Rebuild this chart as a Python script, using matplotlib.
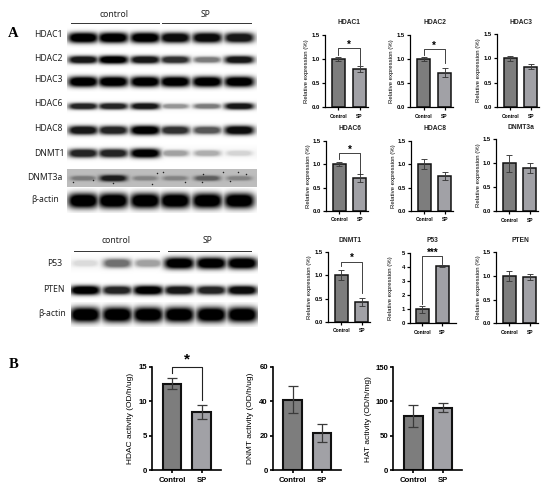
import numpy as np
import matplotlib.pyplot as plt

from matplotlib import rcParams
rcParams['font.family'] = ['Liberation Sans', 'DejaVu Sans']
rcParams['font.weight'] = 'bold'

W, H = 550, 491

# panel A bar charts
names_a = ['HDAC1', 'HDAC2', 'HDAC3', 'HDAC6', 'HDAC8', 'DNMT3a', 'DNMT1', 'P53', 'PTEN']
control_a = [1.0, 1.0, 1.0, 1.0, 1.0, 1.0, 1.0, 1.0, 1.0]
sp_a = [0.79, 0.72, 0.83, 0.70, 0.75, 0.90, 0.43, 4.07, 0.98]
control_err_a = [0.04, 0.04, 0.05, 0.05, 0.11, 0.18, 0.10, 0.25, 0.10]
sp_err_a = [0.06, 0.09, 0.05, 0.08, 0.09, 0.10, 0.09, 0.07, 0.06]

# panel B bar charts
ylabels_b = ['HDAC activity (OD/h/ug)', 'DNMT activity (OD/h/ug)', 'HAT activity (OD/h/mg)']
control_b = [12.5, 41.0, 78.5]
sp_b = [8.4, 21.4, 91.0]
control_err_b = [0.8, 7.8, 16.0]
sp_err_b = [1.0, 5.2, 7.0]

groups = ['Control', 'SP']

# band strength in the six lanes of each blot row
blot_top_names = ['HDAC1', 'HDAC2', 'HDAC3', 'HDAC6', 'HDAC8', 'DNMT1', 'DNMT3a', 'β-actin']
blot_top = [
    [1.0, 1.0, 1.0, 0.95, 0.95, 0.9],
    [0.9, 1.0, 0.9, 0.8, 0.5, 0.9],
    [1.0, 1.0, 1.0, 1.0, 1.0, 1.0],
    [0.85, 0.85, 0.9, 0.4, 0.5, 0.9],
    [0.9, 0.85, 1.0, 0.8, 0.65, 0.95],
    [0.85, 0.85, 1.0, 0.35, 0.3, 0.15],
    [0.35, 0.85, 0.3, 0.3, 0.5, 0.3],
    [1.0, 1.0, 1.0, 1.0, 1.0, 1.0],
]
blot_bottom_names = ['P53', 'PTEN', 'β-actin']
blot_bottom = [
    [0.12, 0.55, 0.35, 1.0, 1.0, 1.0],
    [1.0, 0.85, 1.0, 0.9, 0.85, 0.95],
    [1.0, 1.0, 1.0, 1.0, 1.0, 1.0],
]

# dark specks on the DNMT3a membrane
speck_x = [73, 93, 113, 152, 157, 163, 185, 203, 223, 202, 230, 238, 246]
speck_y = [182, 180, 183, 184, 173, 172, 182, 174, 172, 182, 181, 172, 174]

fig = plt.figure(figsize=(W / 100, H / 100), dpi=100)


def px_axes(x0, ytop, x1, ybot):
    return fig.add_axes([x0 / W, 1 - ybot / H, (x1 - x0) / W, (ybot - ytop) / H])


# whole figure overlay in pixel coordinates, for the blots and loose text
bg = px_axes(0, 0, W, H)
bg.axis('off')


def blot_row(values, yc, lanes, half_w, half_h, x0, x1, back=1.0):
    pad = half_h + 6
    xs = np.arange(x0, x1, 0.5)
    ys = np.arange(yc - pad, yc + pad, 0.5)
    xx, yy = np.meshgrid(xs, ys)
    dark = np.zeros_like(xx)
    for v, lx in zip(values, lanes):
        hw = half_w * (0.85 + 0.15 * v)
        hh = half_h * (0.6 + 0.55 * v)
        d = np.exp(-np.abs((xx - lx) / hw)**4 - np.abs((yy - yc) / hh)**2.4)
        dark = np.maximum(dark, v * np.minimum(1.0, 1.4 * d))
    if back < 1.0:
        img = back * (1 - dark)
    else:
        halo = 0.025 * np.exp(-np.abs((yy - yc) / (half_h + 3))**4)
        img = (1 - halo) * (1 - dark)
    bg.imshow(img, cmap='gray', vmin=0, vmax=1, extent=[x0, x1, yc + pad, yc - pad],
              aspect='auto', interpolation='bilinear', zorder=1)


lanes_top = [83, 113, 145, 175, 207, 239]
row_y_top = [37.7, 59, 81.7, 105.7, 130, 153, 178, 201]
row_h_top = [4.5, 3.5, 4.5, 3, 4, 4, 3, 6.5]
label_x_top = [48.7, 48.7, 48.7, 48.7, 48.7, 49.7, 44.8, 45.3]
label_y_top = [34, 58, 79, 103, 128, 153, 178, 200]
for i in range(8):
    if blot_top_names[i] == 'DNMT3a':
        blot_row(blot_top[i], row_y_top[i], lanes_top, 14, row_h_top[i], 67, 257, back=0.74)
    else:
        blot_row(blot_top[i], row_y_top[i], lanes_top, 15, row_h_top[i], 67, 257)
    bg.text(label_x_top[i], label_y_top[i], blot_top_names[i], family='Noto Sans', weight='normal',
            fontsize=6.2, ha='center', va='center', color='#222222', zorder=3)
bg.scatter(speck_x, speck_y, s=1.2, color='#222222', linewidths=0, zorder=2)

lanes_bottom = [85, 117, 148, 179, 211, 242]
row_y_bottom = [263, 290, 315]
row_h_bottom = [5, 4, 6.5]
label_x_bottom = [55, 53.7, 51.7]
label_y_bottom = [263, 290, 314]
for i in range(3):
    blot_row(blot_bottom[i], row_y_bottom[i], lanes_bottom, 15, row_h_bottom[i], 71, 258)
    bg.text(label_x_bottom[i], label_y_bottom[i], blot_bottom_names[i], family='Noto Sans', weight='normal',
            fontsize=6.2, ha='center', va='center', color='#222222', zorder=3)

bg.set_xlim(0, W)
bg.set_ylim(H, 0)

for x0, x1, y in [(70.7, 159, 23.3), (162, 250.7, 23.3), (74, 159, 250.7), (168, 251, 250.7)]:
    bg.plot([x0, x1], [y, y], color='#333333', lw=0.7, zorder=3)
for x, y, s in [(114, 14.3, 'control'), (206, 14.3, 'SP'), (116, 240.7, 'control'), (208, 240.7, 'SP')]:
    bg.text(x, y, s, family='Noto Sans', weight='normal', fontsize=6.2, ha='center', va='center', color='#222222')

bg.text(13, 33, 'A', family='Liberation Serif', fontsize=10.5, ha='center', va='center')
bg.text(14, 364, 'B', family='Liberation Serif', fontsize=10.5, ha='center', va='center')


def bars(ax, c, s, ce, se, top, ticks, lw, cap, tick_fs, xtick_fs, ylabel, ylabel_fs, ylabel_x, xlim):
    ax.bar([0, 1], [c, s], width=0.64, color=['#7d7d7d', '#a1a1a6'], edgecolor='#111111', linewidth=lw)
    ax.errorbar([0, 1], [c, s], yerr=[ce, se], fmt='none', ecolor='#3a3a3a', elinewidth=lw * 0.6,
                capsize=cap, capthick=lw * 0.6)
    ax.set_xlim(*xlim)
    ax.set_ylim(0, top)
    ax.set_yticks(ticks)
    ax.set_xticks([0, 1], groups)
    ax.tick_params(axis='y', labelsize=tick_fs, width=lw * 0.8, length=2, pad=1.5)
    ax.tick_params(axis='x', labelsize=xtick_fs, width=lw * 0.8, length=2, pad=2.5)
    ax.spines[['top', 'right']].set_visible(False)
    ax.spines[['left', 'bottom']].set_linewidth(lw * 0.8)
    ax.patch.set_alpha(0)
    ax.set_ylabel(ylabel, fontsize=ylabel_fs, labelpad=0)
    ax.yaxis.set_label_coords(ylabel_x, 0.5)


def bracket(ax, left, top, right, stars, star_y, lw, fs):
    ax.plot([0, 0, 1, 1], [left, top, top, right], color='#222222', lw=lw, clip_on=False)
    ax.text(0.5, star_y, stars, fontsize=fs, ha='center', va='center', clip_on=False)


# pixel boxes of the small charts, left/top/right/bottom
boxes_a = [
    (324.7, 35, 368, 107.3), (410, 35, 453, 107.3), (496.7, 34, 539, 107.3),
    (326, 140.7, 368, 211), (411, 141, 453, 211), (496, 139.3, 538, 211.3),
    (327.7, 251.7, 370, 322), (410, 252.7, 456, 323.3), (496, 252, 538, 323.3),
]
title_xy = [(348.7, 22), (435, 22), (521, 22), (350, 129), (435, 129), (521, 127),
            (350, 240), (432, 240), (520, 240)]

for i, box in enumerate(boxes_a):
    ax = px_axes(*box)
    if names_a[i] == 'P53':
        top, ticks, xlim = 5, [0, 1, 2, 3, 4, 5], (-0.61, 1.68)
    else:
        top, ticks, xlim = 1.5, [0.0, 0.5, 1.0, 1.5], (-0.65, 1.4)
    bars(ax, control_a[i], sp_a[i], control_err_a[i], sp_err_a[i], top, ticks, 1.1, 2.3, 4.2, 3.5,
         'Relative expression (%)', 4.3, -0.365, xlim)
    if names_a[i] != 'P53':
        ax.set_yticklabels(['0.0', '0.5', '1.0', '1.5'])
    bg.text(title_xy[i][0], title_xy[i][1], names_a[i], fontsize=4.8, ha='center', va='center', color='#222222')
    if names_a[i] == 'HDAC1':
        bracket(ax, 1.08, 1.22, 0.88, '*', 1.29, 0.6, 7)
    if names_a[i] == 'HDAC2':
        bracket(ax, 1.08, 1.21, 0.91, '*', 1.28, 0.6, 7)
    if names_a[i] == 'HDAC6':
        bracket(ax, 1.12, 1.23, 0.80, '*', 1.3, 0.6, 7)
    if names_a[i] == 'DNMT1':
        bracket(ax, 1.19, 1.29, 0.62, '*', 1.36, 0.6, 7)
    if names_a[i] == 'P53':
        bracket(ax, 1.35, 4.76, 4.2, '***', 4.98, 0.6, 7)

boxes_b = [(152, 366.7, 220.7, 470.3), (272.7, 366.7, 341, 470.3), (393, 367, 462, 470.3)]
tops_b = [15, 60, 150]
ticks_b = [[0, 5, 10, 15], [0, 20, 40, 60], [0, 50, 100, 150]]
ylabel_x_b = [-0.26, -0.28, -0.30]

for i, box in enumerate(boxes_b):
    ax = px_axes(*box)
    bars(ax, control_b[i], sp_b[i], control_err_b[i], sp_err_b[i], tops_b[i], ticks_b[i], 1.5, 3.6, 5.6, 5.6,
         ylabels_b[i], 6.0, ylabel_x_b[i], (-0.68, 1.65))
    if i == 0:
        bracket(ax, 14.1, 15, 10.2, '*', 16.0, 0.8, 11)

fig.savefig('out.png', dpi=100)
